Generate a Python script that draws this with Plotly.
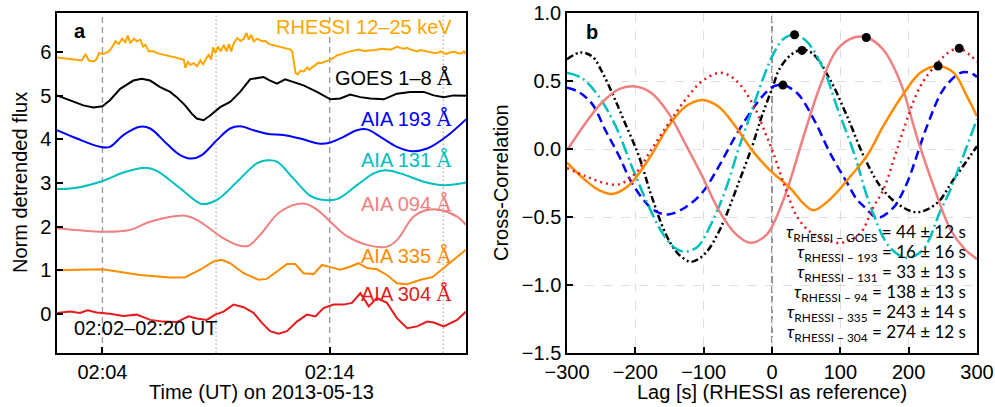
import pandas as pd
import plotly.graph_objects as go

# ---------------- Panel a: normalised, detrended light curves ----------------
# time in minutes after 02:00 UT on 2013-05-13
rhessi_t = [2.0, 2.44, 3.1, 3.25, 3.4, 3.62, 3.76, 3.84, 4.06, 4.28, 4.42, 4.57, 4.72, 4.86, 5.01,
            5.11, 5.23, 5.38, 5.52, 5.67, 5.79, 5.89, 6.04, 6.26, 6.4, 7.58, 7.65, 7.76, 7.87, 8.02,
            8.17, 8.31, 8.43, 8.58, 8.68, 8.78, 8.87, 8.97, 9.08, 9.2, 9.34, 9.46, 9.56, 9.67, 9.78,
            9.93, 10.08, 10.22, 10.34, 10.44, 10.55, 10.66, 10.81, 11.03, 11.18, 11.32, 12.28,
            12.35, 12.5, 12.6, 12.72, 12.87, 13.01, 13.1, 13.16, 13.38, 13.5, 13.6, 13.82, 14.04,
            14.2, 14.33, 14.5, 14.63, 14.92, 15.29, 15.51, 16.0, 16.3, 16.68, 16.98, 17.1, 17.27,
            17.4, 17.57, 17.7, 17.86, 18.0, 18.15, 18.4, 18.59, 18.75, 18.89, 19.1, 19.33, 19.5,
            19.62, 19.8, 19.91, 20.0]
rhessi_v = [5.88, 5.85, 5.81, 5.96, 5.81, 5.79, 5.85, 5.98, 5.96, 6.02, 6.11, 6.25, 6.19, 6.31, 6.23,
            6.38, 6.21, 6.31, 6.25, 6.29, 6.13, 6.17, 6.02, 6.02, 5.98, 5.83, 5.64, 5.78, 5.71, 5.75,
            5.68, 5.81, 5.72, 5.87, 5.94, 5.83, 6.11, 5.98, 6.13, 6.02, 6.17, 6.02, 6.19, 6.02, 6.21,
            6.32, 6.26, 6.31, 6.44, 6.29, 6.40, 6.25, 6.31, 6.25, 6.26, 6.19, 6.06,
            6.02, 5.52, 5.49, 5.58, 5.56, 5.65, 5.60, 5.62, 5.71, 5.76, 5.75, 5.79, 5.83,
            5.88, 5.93, 5.95, 5.98, 6.02, 6.06, 6.03, 6.05, 6.08, 6.06, 6.13, 6.10, 6.08,
            6.10, 6.06, 6.04, 6.02, 6.05, 6.03, 6.00, 5.98, 5.99, 6.02, 5.96, 6.00, 6.01,
            5.98, 5.97, 6.02, 5.96]

goes_t = [2.0, 2.57, 3.16, 3.6, 4.0, 4.33, 4.78, 5.36, 5.73, 6.1, 6.54, 6.98, 7.27, 7.64, 7.93, 8.15,
          8.45, 8.74, 9.18, 9.62, 10.06, 10.5, 11.09, 11.38, 11.68, 12.04, 12.41, 12.85, 13.44,
          14.03, 14.47, 14.9, 15.35, 15.79, 16.38, 16.96, 17.55, 18.14, 18.58, 19.02, 19.46, 20.0]
goes_v = [5.01, 4.9, 4.78, 4.73, 4.76, 4.9, 5.16, 5.35, 5.39, 5.35, 5.2, 5.09, 4.97, 4.78, 4.59, 4.48,
          4.44, 4.55, 4.74, 4.86, 5.09, 5.38, 5.43, 5.35, 5.28, 5.38, 5.32, 5.24, 5.09, 4.92, 4.94,
          5.03, 4.97, 4.94, 4.92, 5.05, 5.09, 5.09, 5.01, 4.97, 5.01, 5.0]

a193_t = [2.0, 2.87, 3.9, 4.33, 4.92, 5.66, 6.1, 6.83, 7.42, 7.93, 8.37, 9.03, 9.62, 10.06, 10.65,
          11.24, 11.97, 12.7, 13.59, 14.03, 14.61, 15.2, 15.64, 16.23, 16.96, 17.63, 18.29, 19.02, 20.0]
a193_v = [4.21, 4.02, 3.83, 3.83, 4.1, 4.29, 4.25, 3.9, 3.64, 3.56, 3.64, 3.98, 4.25, 4.3, 4.21,
          4.13, 4.1, 4.02, 3.9, 3.93, 4.06, 4.21, 4.23, 4.06, 3.83, 3.73, 3.79, 4.02, 4.46]

a131_t = [2.0, 2.87, 4.04, 4.92, 5.88, 6.39, 7.42, 8.37, 9.03, 10.06, 10.79, 11.24, 11.68, 12.41,
          13.14, 13.59, 14.32, 15.2, 15.94, 16.45, 17.11, 18.14, 19.02, 20.0]
a131_v = [2.86, 2.89, 3.05, 3.24, 3.35, 3.28, 2.88, 2.52, 2.61, 3.1, 3.45, 3.52, 3.49, 3.1,
          2.71, 2.62, 2.63, 2.95, 3.22, 3.29, 3.22, 3.03, 2.95, 3.01]

a094_t = [2.0, 4.04, 5.2, 6.1, 7.64, 8.3, 9.33, 10.06, 10.43, 10.94, 11.82, 12.85, 13.44, 14.03,
          14.76, 15.64, 16.52, 16.96, 17.7, 18.29, 18.88, 19.61, 20.0]
a094_v = [1.96, 1.88, 1.92, 2.11, 2.25, 2.11, 1.73, 1.56, 1.56, 1.81, 2.34, 2.53, 2.39, 2.11,
          1.78, 1.58, 1.54, 1.69, 2.23, 2.38, 2.38, 2.23, 2.04]

a335_t = [2.0, 4.0, 5.66, 6.98, 7.64, 8.3, 8.89, 9.25, 9.62, 10.21, 10.87, 11.24, 11.68, 12.12,
          12.48, 12.85, 13.29, 13.66, 14.03, 14.47, 14.9, 15.27, 15.64, 16.08, 16.52, 16.96,
          17.41, 18.0, 18.52, 19.02, 20.0]
a335_v = [1.0, 1.02, 0.89, 0.83, 0.84, 1.01, 1.2, 1.24, 1.16, 0.93, 0.78, 0.8, 0.97, 1.14,
          1.14, 0.93, 0.91, 1.12, 1.07, 1.01, 1.08, 1.16, 1.05, 1.02, 0.89, 0.7,
          0.68, 0.78, 0.84, 1.05, 1.47]

a304_t = [2.0, 2.57, 3.01, 3.34, 3.75, 4.33, 4.92, 5.51, 6.1, 6.68, 7.27, 7.79, 8.15, 8.59, 8.96,
          9.33, 9.77, 10.21, 10.65, 11.02, 11.38, 11.75, 12.12, 12.56, 13.0, 13.37, 13.73, 14.17,
          14.61, 14.98, 15.35, 15.72, 16.08, 16.52, 16.96, 17.41, 17.85, 18.29, 18.58, 19.02,
          19.61, 20.0]
a304_v = [0.02, 0.05, 0.02, 0.08, 0.03, 0.0, -0.05, -0.02, -0.14, -0.18, -0.19, -0.06, -0.11, -0.14,
          -0.02, 0.05, 0.21, 0.15, 0.02, -0.21, -0.4, -0.46, -0.4, -0.18, -0.02, -0.06, 0.13, 0.21,
          0.21, 0.25, 0.47, 0.17, 0.36, 0.25, -0.1, -0.33, -0.29, -0.18, -0.2, -0.29,
          -0.14, 0.05]

curve_names = ["RHESSI 12–25 keV", "GOES 1–8 Å", "AIA 193 Å", "AIA 131 Å",
               "AIA 094 Å", "AIA 335 Å", "AIA 304 Å"]

# ---------------- Panel b: cross-correlation against RHESSI ----------------
goes_lag = [-300, -280, -263, -249, -232, -215, -195, -176, -156, -141, -128, -118, -105, -93, -80,
            -68, -49, -29, -15, 2, 10, 27, 44, 60, 85, 110, 134, 158, 183, 212, 241, 265, 300]
goes_cc = [0.66, 0.71, 0.68, 0.57, 0.39, 0.19, -0.05, -0.35, -0.62, -0.75, -0.81, -0.83, -0.80,
           -0.74, -0.63, -0.50, -0.25, 0.02, 0.24, 0.47, 0.58, 0.69, 0.73, 0.70, 0.51, 0.24, -0.05,
           -0.27, -0.40, -0.465, -0.40, -0.23, 0.02]

c193_lag = [-300, -283, -263, -244, -224, -205, -180, -165, -150, -127, -102, -78, -54, -29, -10, 2,
            16, 37, 61, 85, 110, 124, 134, 155, 178, 187, 200, 227, 251, 276, 290, 300]
c193_cc = [0.45, 0.42, 0.33, 0.14, -0.05, -0.25, -0.42, -0.47, -0.48, -0.43, -0.32, -0.13, 0.09,
           0.29, 0.41, 0.46, 0.47, 0.41, 0.22, -0.03, -0.25, -0.37, -0.42, -0.505, -0.43, -0.36,
           -0.22, 0.17, 0.44, 0.56, 0.56, 0.53]

c131_lag = [-300, -278, -254, -229, -205, -185, -166, -150, -138, -128, -118, -107, -88, -68, -49,
            -29, -10, 2, 17, 33, 51, 76, 95, 120, 144, 172, 197, 221, 246, 261, 280, 300]
c131_cc = [0.56, 0.52, 0.39, 0.17, -0.13, -0.37, -0.57, -0.69, -0.74, -0.755, -0.745, -0.71, -0.54,
           -0.30, 0.0, 0.29, 0.56, 0.70, 0.81, 0.84, 0.79, 0.58, 0.31, -0.03, -0.42, -0.72, -0.80,
           -0.74, -0.46, -0.30, -0.05, 0.22]

c094_lag = [-300, -273, -249, -224, -200, -176, -151, -127, -102, -78, -54, -32, -10, 0, 22, 46, 71,
            95, 120, 139, 163, 188, 212, 237, 261, 281, 300]
c094_cc = [-0.01, 0.19, 0.34, 0.44, 0.46, 0.41, 0.26, 0.04, -0.20, -0.45, -0.62, -0.69, -0.64, -0.57,
           -0.30, 0.09, 0.47, 0.73, 0.82, 0.82, 0.73, 0.49, 0.09, -0.28, -0.59, -0.73, -0.81]

c335_lag = [-300, -273, -254, -234, -210, -181, -151, -127, -102, -78, -54, -29, -10, 0, 27, 46, 61,
            85, 115, 139, 163, 193, 217, 242, 266, 285, 300]
c335_cc = [-0.10, -0.23, -0.30, -0.33, -0.27, -0.08, 0.17, 0.31, 0.36, 0.31, 0.17, -0.01, -0.12,
           -0.17, -0.29, -0.40, -0.45, -0.37, -0.20, -0.05, 0.17, 0.41, 0.56, 0.61, 0.56, 0.39, 0.24]

c304_lag = [-300, -273, -249, -224, -200, -176, -151, -127, -102, -75, -54, -29, -10, 2, 17, 37, 56,
            71, 100, 129, 148, 163, 180, 193, 217, 242, 261, 274, 290, 300]
c304_cc = [-0.14, -0.20, -0.245, -0.26, -0.18, 0.0, 0.19, 0.36, 0.50, 0.56, 0.51, 0.34, 0.12, -0.03,
           -0.25, -0.50, -0.61, -0.65, -0.69, -0.62, -0.43, -0.30, -0.05, 0.15, 0.46, 0.63, 0.72,
           0.74, 0.69, 0.64]

# lag of the correlation peak and its uncertainty, plus the peak value
tau_names = ["GOES", "193", "131", "94", "335", "304"]
tau_lag = [44, 16, 33, 138, 243, 274]
tau_err = [12, 16, 13, 13, 14, 12]
tau_peak = [0.725, 0.47, 0.84, 0.82, 0.61, 0.74]

# ---------------- styling ----------------
W, H = 995, 407
FONT = "Liberation Sans, Arial, sans-serif"
FS = 20
ORANGE = "#FFA500"
BLACK = "#000000"
BLUE = "#0000FF"
CYAN = "#00BFBF"
SALMON = "#F08080"
DORANGE = "#FF8C00"
RED = "#E41A1C"

AX_A = [57 / W, 466 / W]
AX_B = [567 / W, 977 / W]
AX_Y = [1 - 353 / H, 1 - 13 / H]


def px_y(py):
    return 1 - py / H


def px_x(px):
    return px / W


base = pd.Timestamp("2013-05-13 02:00:00")


def to_time(minutes):
    return base + pd.to_timedelta(minutes, unit="m")


fig = go.Figure()

left_series = [
    (rhessi_t, rhessi_v, ORANGE, "linear"),
    (goes_t, goes_v, BLACK, "linear"),
    (a193_t, a193_v, BLUE, "spline"),
    (a131_t, a131_v, CYAN, "spline"),
    (a094_t, a094_v, SALMON, "spline"),
    (a335_t, a335_v, DORANGE, "linear"),
    (a304_t, a304_v, RED, "linear"),
]
for (t, v, col, shp), name in zip(left_series, curve_names):
    fig.add_trace(go.Scatter(x=to_time(t), y=v, mode="lines", name=name,
                             line=dict(color=col, width=2, shape=shp),
                             xaxis="x", yaxis="y", showlegend=False))

right_series = [
    (goes_lag, goes_cc, BLACK, "7px,3px,2px,3px,2px,3px"),
    (c193_lag, c193_cc, BLUE, "9px,5px"),
    (c131_lag, c131_cc, CYAN, "13px,4px,2px,4px"),
    (c094_lag, c094_cc, SALMON, "solid"),
    (c335_lag, c335_cc, DORANGE, "solid"),
    (c304_lag, c304_cc, RED, "2px,4px"),
]
for (lag, cc, col, dash), name in zip(right_series, curve_names[1:]):
    fig.add_trace(go.Scatter(x=lag, y=cc, mode="lines", name=name,
                             line=dict(color=col, width=2.5, dash=dash, shape="spline",
                                       smoothing=1.0),
                             xaxis="x2", yaxis="y2", showlegend=False))

fig.add_trace(go.Scatter(x=tau_lag, y=tau_peak, mode="markers",
                         marker=dict(color="black", size=9),
                         xaxis="x2", yaxis="y2", showlegend=False))

# reference lines
shapes = []
for m in [4, 14]:
    shapes.append(dict(type="line", xref="x", yref="y domain", x0=to_time(m), x1=to_time(m),
                       y0=0, y1=1, line=dict(color="#9a9a9a", width=1.3, dash="6px,4px"),
                       layer="below"))
for m in [9, 19]:
    shapes.append(dict(type="line", xref="x", yref="y domain", x0=to_time(m), x1=to_time(m),
                       y0=0, y1=1, line=dict(color="#a8a8a8", width=1.2, dash="1.5px,2.5px"),
                       layer="below"))
shapes.append(dict(type="line", xref="x2", yref="y2 domain", x0=0, x1=0, y0=0, y1=1,
                   line=dict(color="#707070", width=1.5, dash="7px,3px"), layer="below"))

AA = "<span style='font-family:DejaVu Serif'>Å</span>"
label_text = ["RHESSI 12–25 keV", "GOES 1–8 " + AA, "AIA 193 " + AA, "AIA 131 " + AA,
              "AIA 094 " + AA, "AIA 335 " + AA, "AIA 304 " + AA]
label_col = [ORANGE, BLACK, BLUE, CYAN, SALMON, DORANGE, RED]
label_py = [27, 77, 119, 160, 203, 255, 293]

annotations = []
for txt, col, py in zip(label_text, label_col, label_py):
    annotations.append(dict(text=txt, xref="paper", yref="paper", x=px_x(454), y=px_y(py),
                            xanchor="right", yanchor="middle", showarrow=False,
                            font=dict(family=FONT, size=FS, color=col)))
annotations.append(dict(text="02:02–02:20 UT", xref="paper", yref="paper", x=px_x(72), y=px_y(328),
                        xanchor="left", yanchor="middle", showarrow=False,
                        font=dict(family=FONT, size=FS, color="black")))
annotations.append(dict(text="<b>a</b>", xref="paper", yref="paper", x=px_x(72), y=px_y(31),
                        xanchor="left", yanchor="middle", showarrow=False,
                        font=dict(family=FONT, size=FS, color="black")))
annotations.append(dict(text="<b>b</b>", xref="paper", yref="paper", x=px_x(584), y=px_y(32),
                        xanchor="left", yanchor="middle", showarrow=False,
                        font=dict(family=FONT, size=FS, color="black")))

# axis titles
annotations.append(dict(text="Time (UT) on 2013-05-13", xref="paper", yref="paper",
                        x=(AX_A[0] + AX_A[1]) / 2, y=px_y(392), xanchor="center", yanchor="middle",
                        showarrow=False, font=dict(family=FONT, size=FS, color="black")))
annotations.append(dict(text="Lag [s] (RHESSI as reference)", xref="paper", yref="paper",
                        x=(AX_B[0] + AX_B[1]) / 2, y=px_y(392), xanchor="center", yanchor="middle",
                        showarrow=False, font=dict(family=FONT, size=FS, color="black")))
annotations.append(dict(text="Norm detrended flux", xref="paper", yref="paper",
                        x=px_x(20), y=(AX_Y[0] + AX_Y[1]) / 2, xanchor="center", yanchor="middle",
                        textangle=-90, showarrow=False,
                        font=dict(family=FONT, size=FS, color="black")))
annotations.append(dict(text="Cross-Correlation", xref="paper", yref="paper",
                        x=px_x(501), y=(AX_Y[0] + AX_Y[1]) / 2, xanchor="center", yanchor="middle",
                        textangle=-90, showarrow=False,
                        font=dict(family=FONT, size=FS, color="black")))

# lag summary
for i, (nm, lg, er) in enumerate(zip(tau_names, tau_lag, tau_err)):
    txt = f"<i>τ</i><sub>RHESSI − {nm.upper()}</sub> = {lg} ± {er} s"
    annotations.append(dict(text=txt, xref="paper", yref="paper", x=px_x(968), y=px_y(233 + 20 * i),
                            xanchor="right", yanchor="middle", showarrow=False,
                            font=dict(family="Lato, DejaVu Sans, sans-serif", size=17,
                                      color="black")))

axis_common = dict(showline=True, linecolor="black", linewidth=1.5, mirror=True,
                   ticks="inside", ticklen=6, tickwidth=1.5, tickcolor="black",
                   tickfont=dict(family=FONT, size=FS, color="black"), zeroline=False,
                   automargin=False)

fig.update_layout(
    width=W, height=H, margin=dict(l=0, r=0, t=0, b=0),
    paper_bgcolor="white", plot_bgcolor="white",
    xaxis=dict(domain=AX_A, anchor="y", type="date",
               range=[to_time(2), to_time(20)],
               tickvals=[to_time(4), to_time(14)], ticktext=["02:04", "02:14"],
               showgrid=False, **axis_common),
    yaxis=dict(domain=AX_Y, anchor="x", range=[-0.9, 6.9], tickvals=[0, 1, 2, 3, 4, 5, 6],
               showgrid=False, **axis_common),
    xaxis2=dict(domain=AX_B, anchor="y2", range=[-300, 300], tickvals=[-300, -200, -100, 0, 100, 200, 300],
                showgrid=True, gridcolor="#dedede", gridwidth=1, griddash="dash", **axis_common),
    yaxis2=dict(domain=AX_Y, anchor="x2", range=[-1.5, 1.0], tickvals=[-1.5, -1.0, -0.5, 0.0, 0.5, 1.0],
                tickformat=".1f", showgrid=True, gridcolor="#dedede", gridwidth=1, griddash="dash",
                **axis_common),
    shapes=shapes,
    annotations=annotations,
)

fig.write_html("out.html")
